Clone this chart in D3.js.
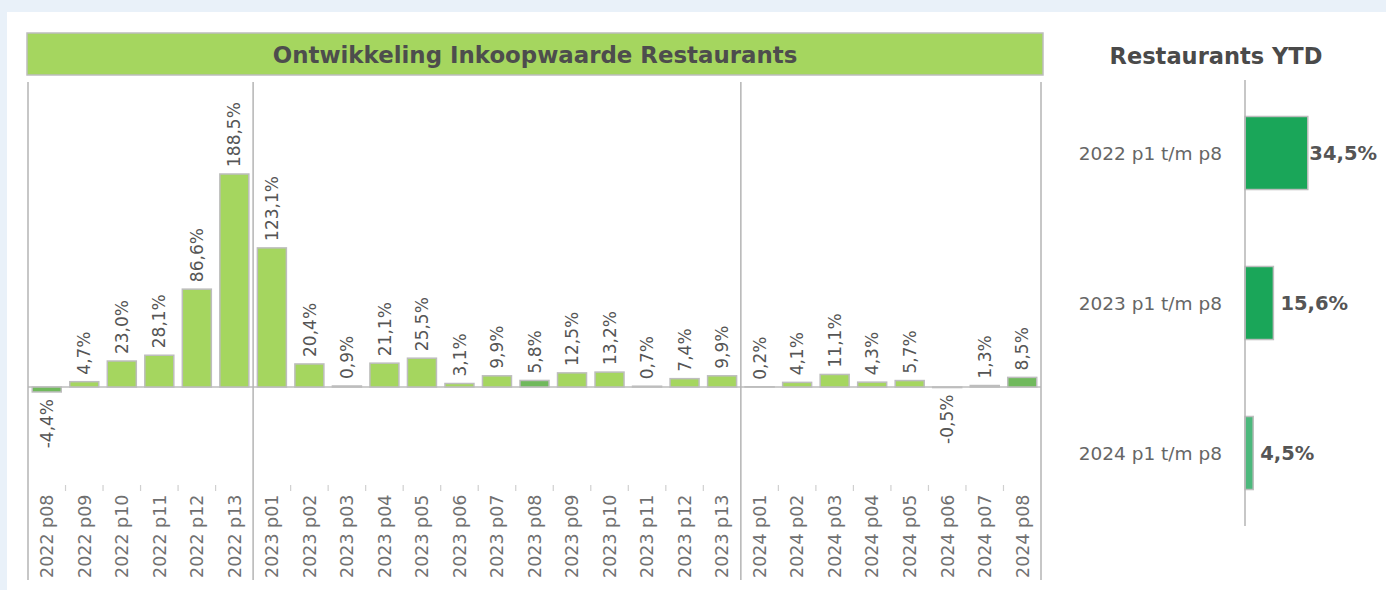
<!DOCTYPE html>
<html><head><meta charset="utf-8">
<script src="https://cdn.jsdelivr.net/npm/d3@7/dist/d3.min.js"></script>
<style>
html,body{margin:0;padding:0;background:#e9f1f9;}
svg{display:block;}
text{font-family:"DejaVu Sans",sans-serif;}
</style></head>
<body>
<svg id="chart" width="1386" height="590"></svg>
<script>
// ---- data ----
const categories = [
  "2022 p08","2022 p09","2022 p10","2022 p11","2022 p12","2022 p13",
  "2023 p01","2023 p02","2023 p03","2023 p04","2023 p05","2023 p06","2023 p07","2023 p08","2023 p09","2023 p10","2023 p11","2023 p12","2023 p13",
  "2024 p01","2024 p02","2024 p03","2024 p04","2024 p05","2024 p06","2024 p07","2024 p08"
];
const values = [
  -4.4, 4.7, 23.0, 28.1, 86.6, 188.5,
  123.1, 20.4, 0.9, 21.1, 25.5, 3.1, 9.9, 5.8, 12.5, 13.2, 0.7, 7.4, 9.9,
  0.2, 4.1, 11.1, 4.3, 5.7, -0.5, 1.3, 8.5
];
const highlighted = ["2022 p08","2023 p08","2024 p08"];
const yearBreaks = ["2023 p01","2024 p01"];
const ytdCategories = ["2022 p1 t/m p8","2023 p1 t/m p8","2024 p1 t/m p8"];
const ytdValues = [34.5, 15.6, 4.5];
const mainTitle = "Ontwikkeling Inkoopwaarde Restaurants";
const ytdTitle = "Restaurants YTD";

const fmt = v => d3.format(".1f")(v).replace("\u2212", "-").replace(".", ",") + "%";

const svg = d3.select("#chart");
svg.append("rect").attr("x",7).attr("y",12).attr("width",1379).attr("height",578).attr("fill","#fff");

function fitWidth(sel, target){
  const w = sel.node().getComputedTextLength();
  const fs = parseFloat(sel.attr("font-size"));
  sel.attr("font-size", fs*target/w);
}

// ---- main chart ----
const pLeft = 28, pRight = 1041, pTop = 82, pBottom = 580;
svg.append("rect").attr("x",27).attr("y",33).attr("width",1016).attr("height",42)
  .attr("fill","#a5d65f").attr("stroke","#bdbdbd").attr("stroke-width",1.5);
const t1 = svg.append("text").attr("x",535).attr("y",63).attr("text-anchor","middle")
  .attr("font-size",20).attr("font-weight","bold").attr("fill","#4d4d4d").text(mainTitle);
fitWidth(t1, 525);

const x = d3.scaleBand().domain(categories).range([pLeft,pRight]).paddingInner(0.227).paddingOuter(0.1135);
const y = d3.scaleLinear().domain([-10,200]).range([387+11.3, 387-226]);
const step = x.step();
const boundary = c => x(c) - (step - x.bandwidth())/2;

// zero line
svg.append("line").attr("x1",pLeft).attr("x2",pRight).attr("y1",y(0)).attr("y2",y(0))
  .attr("stroke","#bdbdbd").attr("stroke-width",1.5);

// tick marks at boundaries
const g = svg.append("g");
categories.forEach((c,i)=>{
  if(i===0) return;
  if(yearBreaks.includes(c)) return;
  const bx = boundary(c);
  g.append("line").attr("x1",bx).attr("x2",bx).attr("y1",485).attr("y2",491)
    .attr("stroke","#d0d0d0").attr("stroke-width",1.2);
});

// vertical frame lines
const vlines = [pLeft, pRight].concat(yearBreaks.map(boundary));
vlines.forEach(vx=>{
  svg.append("line").attr("x1",vx).attr("x2",vx).attr("y1",pTop).attr("y2",pBottom)
    .attr("stroke","#b4b4b4").attr("stroke-width",1.5);
});

// bars
svg.append("g").selectAll("rect").data(categories).join("rect")
  .attr("x",c=>x(c)).attr("width",x.bandwidth())
  .attr("y",(c,i)=>y(Math.max(0,values[i])))
  .attr("height",(c,i)=>Math.abs(y(values[i])-y(0)))
  .attr("fill",c=>highlighted.includes(c)?"#70b95c":"#a5d65f")
  .attr("stroke","#bdbdbd").attr("stroke-width",1.5);

// data labels
svg.append("g").selectAll("text").data(categories).join("text")
  .attr("transform",(c,i)=>{
    const cx = x(c)+x.bandwidth()/2;
    const v = values[i];
    const ly = v>=0 ? y(v)-7 : y(v)+7;
    return `translate(${cx},${ly}) rotate(-90)`;
  })
  .attr("text-anchor",(c,i)=>values[i]>=0?"start":"end")
  .attr("dy","0.36em")
  .attr("font-size",17).attr("fill","#555")
  .text((c,i)=>fmt(values[i]));

// x labels
svg.append("g").selectAll("text").data(categories).join("text")
  .attr("transform",c=>`translate(${x(c)+x.bandwidth()/2},578) rotate(-90)`)
  .attr("text-anchor","start").attr("dy","0.36em")
  .attr("font-size",17.5).attr("fill","#707070")
  .text(c=>c);

// ---- YTD chart ----
const t2 = svg.append("text").attr("x",1216).attr("y",64).attr("text-anchor","middle")
  .attr("font-size",20).attr("font-weight","bold").attr("fill","#4a4a4a").text(ytdTitle);
fitWidth(t2, 213);

const yb = d3.scaleBand().domain(ytdCategories).range([78,528]).paddingInner(0.513).paddingOuter(0.2565);
const xl = d3.scaleLinear().domain([0,10]).range([1245,1245+18.2]);

svg.append("g").selectAll("rect").data(ytdCategories).join("rect")
  .attr("x",xl(0)).attr("y",c=>yb(c)).attr("height",yb.bandwidth())
  .attr("width",(c,i)=>xl(ytdValues[i])-xl(0))
  .attr("fill",(c,i)=>i===2?"#4cb87c":"#1aa659")
  .attr("stroke","#bdbdbd").attr("stroke-width",1.5);

svg.append("line").attr("x1",1245).attr("x2",1245).attr("y1",80).attr("y2",526)
  .attr("stroke","#b4b4b4").attr("stroke-width",1.5);

svg.append("g").selectAll("text").data(ytdCategories).join("text")
  .attr("x",1222).attr("y",c=>yb(c)+yb.bandwidth()/2).attr("dy","0.36em")
  .attr("text-anchor","end").attr("font-size",18.5).attr("fill","#666")
  .text(c=>c);

const vl = svg.append("g").selectAll("text").data(ytdCategories).join("text")
  .attr("y",c=>yb(c)+yb.bandwidth()/2).attr("dy","0.36em")
  .attr("font-size",19.5).attr("font-weight","bold").attr("fill","#555")
  .text((c,i)=>fmt(ytdValues[i]));
vl.each(function(c,i){
  const w = this.getComputedTextLength();
  let lx = xl(ytdValues[i]) + 7;
  if(lx + w > 1377) lx = 1377 - w;
  d3.select(this).attr("x",lx);
});
</script>
</body></html>
